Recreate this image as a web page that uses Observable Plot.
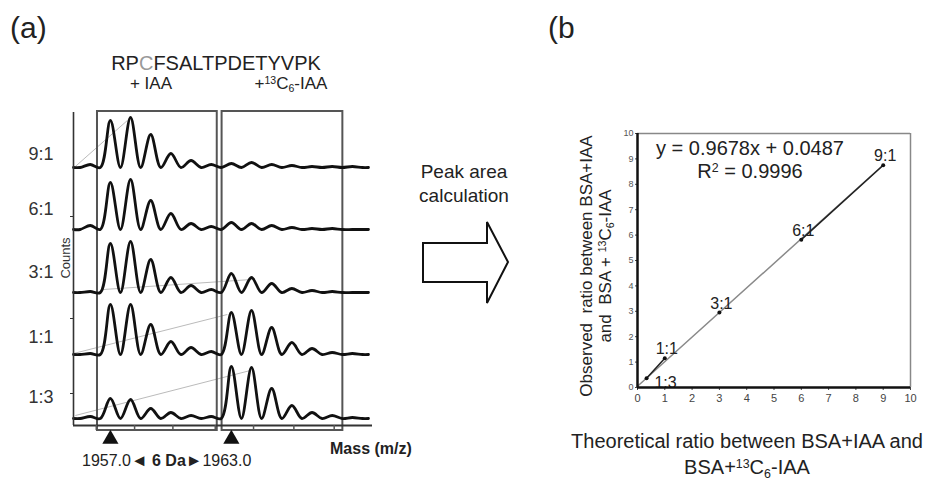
<!DOCTYPE html>
<html><head><meta charset="utf-8">
<script src="https://cdn.jsdelivr.net/npm/d3@7"></script>
<script src="https://cdn.jsdelivr.net/npm/@observablehq/plot@0.6"></script>
<style>
body{margin:0;background:#fff;font-family:"Liberation Sans",Arial,sans-serif;color:#222}
#fig{position:relative;width:925px;height:483px;overflow:hidden;background:#fff}
.t{position:absolute;white-space:nowrap;line-height:1}
.sup{font-size:.62em;position:relative;top:-.45em}
.sub{font-size:.62em;position:relative;top:.28em}
.panel{position:absolute;top:0}
.tri{font-size:1.05em}
</style></head><body><div id="fig"></div>
<script>
// ---------- DATA: panel (a) spectra ----------
const rowLabels = ["9:1", "6:1", "3:1", "1:1", "1:3"];
const rowOffsets = [258, 196, 133, 71, 7];            // stacked baseline (counts)
const rowLabelTicks = [271, 216, 153, 88, 28];         // where the ratio labels sit
const masses = [1956, 1957, 1958, 1959, 1960, 1961, 1962, 1963, 1964, 1965, 1966, 1967, 1968, 1969];
const counts91 = [3, 47, 50, 33, 14, 7, 3, 4, 5, 3, 2, 1, 1, 1];
const counts61 = [4, 47, 50, 29, 16, 6, 3, 7, 6, 4, 2, 1, 1, 0];
const counts31 = [1, 49, 51, 33, 15, 7, 3, 19, 15, 9, 4, 2, 1, 0];
const counts11 = [1, 50, 50, 30, 13, 7, 3, 42, 44, 27, 12, 6, 2, 1];
const counts13 = [2, 20, 19, 10, 6, 3, 2, 52, 51, 30, 13, 6, 3, 1];
const rowCounts = [counts91, counts61, counts31, counts11, counts13];
const massDomain = [1955.17, 1970.0];
const traceEnd = 1969.8;
const countTop = 314;
const boxes = [{x1: 1956.36, x2: 1962.30}, {x1: 1962.54, x2: 1968.53}];
const massTicks = [1956.3, 1958.2, 1960.1, 1962.2, 1964.1, 1966.1, 1968.1];
const countTicks = [209, 107, 32];
const markerMasses = [1957.0, 1963.0];
const guideLines = [
  {m1: 1955.26, c1: 259, m2: 1957.84, c2: 305},
  {m1: 1956.65, c1: 136, m2: 1964.0, c2: 146},
  {m1: 1955.17, c1: 72, m2: 1962.8, c2: 111},
  {m1: 1955.26, c1: 10, m2: 1963.94, c2: 55}
];

// ---------- DATA: panel (b) calibration ----------
const ratioLabels = ["1:3", "1:1", "3:1", "6:1", "9:1"];
const theoretical = [0.333, 1, 3, 6, 9];
const observed = [0.36, 1.15, 2.95, 5.82, 8.75];
const fitSlope = 0.9678, fitIntercept = 0.0487;
const axisTicksB = [0, 1, 2, 3, 4, 5, 6, 7, 8, 9, 10];

// ---------- build tables ----------
const trace = [];
rowLabels.forEach((lab, r) => {
  const base = rowOffsets[r];
  trace.push({row: lab, mass: massDomain[0], c: base});
  rowCounts[r].forEach((h, i) => {
    trace.push({row: lab, mass: masses[i] - 0.5, c: base});
    trace.push({row: lab, mass: masses[i], c: base + h});
  });
  trace.push({row: lab, mass: masses[masses.length - 1] + 0.5, c: base});
  trace.push({row: lab, mass: traceEnd, c: base});
});
const labelMap = new Map(rowLabelTicks.map((v, i) => [v, rowLabels[i]]));
const pts = theoretical.map((x, i) => ({x, y: observed[i], label: ratioLabels[i]}));
const fit = [0, 9].map(x => ({x, y: fitSlope * x + fitIntercept}));

const font = "Liberation Sans, Arial, sans-serif";
const fig = document.getElementById("fig");

// ---------- panel (a) ----------
const plotA = Plot.plot({
  width: 380, height: 483,
  marginLeft: 73, marginRight: 8, marginTop: 111, marginBottom: 58,
  x: {domain: massDomain, axis: null},
  y: {domain: [0, countTop], label: null},
  style: {background: "transparent", fontFamily: font, color: "#222"},
  marks: [
    Plot.link(guideLines, {x1: "m1", y1: "c1", x2: "m2", y2: "c2", stroke: "#bbb", strokeWidth: 1}),
    Plot.rect(boxes, {x1: "x1", x2: "x2", y1: -5, y2: countTop, fill: "none", stroke: "#555", strokeWidth: 2}),
    Plot.line(trace, {x: "mass", y: "c", z: "row", curve: "catmull-rom", stroke: "#111", strokeWidth: 2.8}),
    Plot.ruleX([massDomain[0]], {y1: 0, y2: countTop - 1, stroke: "#333", strokeWidth: 1.6}),
    Plot.ruleY([0], {stroke: "#333", strokeWidth: 2}),
    Plot.ruleX(massTicks, {y1: 0, y2: -5, stroke: "#555", strokeWidth: 1.5}),
    Plot.dot(markerMasses, {x: d => d, y: -13.5, symbol: "triangle", r: 6, fill: "#111", stroke: "none"}),
    Plot.axisY(countTicks, {tickSize: 3, tickFormat: () => "", label: null, stroke: "#333"}),
    Plot.axisY(rowLabelTicks, {tickSize: 0, tickPadding: 20, tickFormat: d => labelMap.get(d), fontSize: 18, fill: "#333", label: null})
  ]
});
const divA = document.createElement("div");
divA.className = "panel"; divA.style.left = "0px";
divA.appendChild(plotA); fig.appendChild(divA);

// ---------- panel (b) ----------
const plotB = Plot.plot({
  width: 385, height: 483,
  marginLeft: 97, marginRight: 15, marginTop: 133, marginBottom: 96,
  x: {domain: [0, 10], axis: null},
  y: {domain: [0, 10], axis: null},
  style: {background: "transparent", fontFamily: font, color: "#444"},
  marks: [
    Plot.ruleY([10], {stroke: "#888", strokeWidth: 1.5}),
    Plot.ruleX([10], {stroke: "#888", strokeWidth: 1.5}),
    Plot.line(fit, {x: "x", y: "y", stroke: "#8a8a8a", strokeWidth: 1.5}),
    Plot.line(pts.slice(0, 2), {x: "x", y: "y", stroke: "#222", strokeWidth: 1.5}),
    Plot.line(pts.slice(3, 5), {x: "x", y: "y", stroke: "#222", strokeWidth: 1.5}),
    Plot.dot(pts, {x: "x", y: "y", r: 2, fill: "#111"}),
    Plot.text(pts.slice(1), {x: "x", y: "y", text: "label", dx: 2, dy: -9, fontSize: 16, fill: "#222"}),
    Plot.text(pts.slice(0, 1), {x: "x", y: "y", text: "label", dx: 19, dy: 5, fontSize: 16, fill: "#222"}),
    Plot.axisX(axisTicksB, {tickSize: 3, tickPadding: 4, fontSize: 11, label: null, fill: "#444"}),
    Plot.axisY(axisTicksB, {tickSize: 2, tickPadding: 2, fontSize: 9, label: null, fill: "#555"}),
    Plot.ruleY([0], {stroke: "#111", strokeWidth: 2.5}),
    Plot.ruleX([0], {stroke: "#111", strokeWidth: 2.5})
  ]
});
const divB = document.createElement("div");
divB.className = "panel"; divB.style.left = "540px";
divB.appendChild(plotB); fig.appendChild(divB);

// ---------- annotation text ----------
function label(html, x, base, size, anchor, extra) {
  const d = document.createElement("div");
  d.className = "t"; d.innerHTML = html;
  d.style.fontSize = size + "px";
  d.style.top = (base - 0.8465 * size) + "px";
  d.style.left = x + "px";
  if (anchor === "middle") d.style.transform = "translateX(-50%)";
  if (anchor === "end") d.style.transform = "translateX(-100%)";
  if (extra) Object.assign(d.style, extra);
  fig.appendChild(d);
}
function rotated(html, cx, cy, size, extra) {
  const d = document.createElement("div");
  d.className = "t"; d.innerHTML = html;
  d.style.fontSize = size + "px";
  d.style.left = cx + "px"; d.style.top = cy + "px";
  d.style.transform = "translate(-50%,-50%) rotate(-90deg)";
  d.style.textAlign = "center";
  if (extra) Object.assign(d.style, extra);
  fig.appendChild(d);
}
label("(a)", 10, 38, 30, "start");
label("(b", 548, 38, 30, "start");
label('RP<span style="color:#999">C</span>FSALTPDETYVPK', 216, 70, 20, "middle");
label("+ IAA", 151, 89, 17, "middle");
label('+<span class="sup">13</span>C<span class="sub">6</span>-IAA', 291, 89, 17, "middle");
label("Peak area", 464, 178, 19, "middle");
label("calculation", 464, 202, 19, "middle");
rotated("Counts", 65, 258, 13, {color: "#333"});
label('1957.0<span class="tri">&#9668;</span> <b>6 Da</b><span class="tri">&#9658;</span>1963.0', 82, 467, 16, "start");
label("<b>Mass (m/z)</b>", 330, 455, 16, "start");
label("y = 0.9678x + 0.0487", 750, 155, 20, "middle");
label('R<span class="sup">2</span> = 0.9996', 750, 178, 20, "middle");
label("Theoretical ratio between BSA+IAA and", 747, 448, 20, "middle");
label('BSA+<span class="sup">13</span>C<span class="sub">6</span>-IAA', 747, 474, 20, "middle");
rotated('Observed&nbsp; ratio between BSA+IAA<br>and&nbsp; BSA + <span class="sup">13</span>C<span class="sub">6</span>-IAA', 597, 266, 17, {lineHeight: "19px"});

// ---------- block arrow ----------
const ns = "http://www.w3.org/2000/svg";
const arrow = document.createElementNS(ns, "svg");
arrow.setAttribute("width", 925); arrow.setAttribute("height", 483);
arrow.style.position = "absolute"; arrow.style.left = "0"; arrow.style.top = "0";
const poly = document.createElementNS(ns, "polygon");
poly.setAttribute("points", "423,243 487,243 487,222 508,262 487,303 487,282 423,282");
poly.setAttribute("fill", "#fff"); poly.setAttribute("stroke", "#111"); poly.setAttribute("stroke-width", "2");
arrow.appendChild(poly); fig.appendChild(arrow);
</script></body></html>
